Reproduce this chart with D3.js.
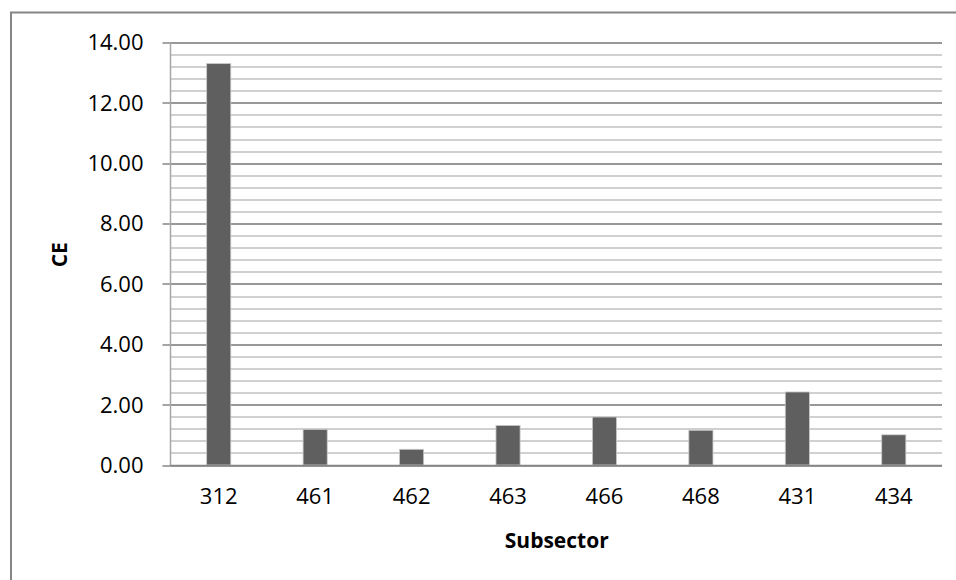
<!DOCTYPE html>
<html>
<head>
<meta charset="utf-8">
<script src="https://cdn.jsdelivr.net/npm/d3@7"></script>
<style>
  body { margin: 0; background: #fff; }
  svg { display: block; font-family: "Open Sans", "Noto Sans", sans-serif; }
</style>
</head>
<body>
<div id="chart"></div>
<script>
// data
const categories = ["312", "461", "462", "463", "466", "468", "431", "434"];
const values = [13.30, 1.18, 0.52, 1.31, 1.59, 1.15, 2.42, 1.00];
const majorTicks = [0, 2, 4, 6, 8, 10, 12, 14];
const minorTicks = d3.range(0, 14.01, 0.4);

const W = 956, H = 580;
const margin = { top: 42.5, right: 14, bottom: 115, left: 170.5 };

const svg = d3.select("#chart").append("svg")
    .attr("width", W)
    .attr("height", H);

// outer chart border
svg.append("path")
    .attr("d", `M11,${H} V12.5 H${W}`)
    .attr("fill", "none")
    .attr("stroke", "#868686")
    .attr("stroke-width", 2);

const width = W - margin.left - margin.right;
const height = H - margin.top - margin.bottom;

const g = svg.append("g")
    .attr("transform", `translate(${margin.left},${margin.top})`);

const x = d3.scaleBand().domain(categories).range([0, width]);
const y = d3.scaleLinear().domain([0, 14]).range([height, 0]);

// minor gridlines
g.selectAll(".minor")
    .data(minorTicks)
    .join("line")
    .attr("class", "minor")
    .attr("x1", 0).attr("x2", width)
    .attr("y1", d => Math.round(y(d)) + 0.5)
    .attr("y2", d => Math.round(y(d)) + 0.5)
    .attr("stroke", "#c0c0c0")
    .attr("stroke-width", 1.5);

// major gridlines + tick marks
g.selectAll(".major")
    .data(majorTicks)
    .join("line")
    .attr("class", "major")
    .attr("x1", -8).attr("x2", width)
    .attr("y1", d => Math.round(y(d)) + 0.5)
    .attr("y2", d => Math.round(y(d)) + 0.5)
    .attr("stroke", "#868686")
    .attr("stroke-width", 1.5);

// y axis line
g.append("line")
    .attr("x1", 0).attr("x2", 0)
    .attr("y1", 0).attr("y2", height)
    .attr("stroke", "#a6a6a6")
    .attr("stroke-width", 1.5);

// bars (gap width 300%)
const barW = x.bandwidth() / 4;
g.selectAll(".bar")
    .data(values)
    .join("rect")
    .attr("class", "bar")
    .attr("x", (d, i) => x(categories[i]) + (x.bandwidth() - barW) / 2)
    .attr("y", d => y(d))
    .attr("width", barW)
    .attr("height", d => height - y(d))
    .attr("fill", "#5f5f5f")
    .attr("stroke", "#c8c8c8")
    .attr("stroke-width", 0.8);

// x axis line
g.append("line")
    .attr("x1", 0).attr("x2", width)
    .attr("y1", height + 0.5).attr("y2", height + 0.5)
    .attr("stroke", "#868686")
    .attr("stroke-width", 1.5);

// y tick labels
g.selectAll(".ylab")
    .data(majorTicks)
    .join("text")
    .attr("class", "ylab")
    .attr("x", -27)
    .attr("y", d => y(d))
    .attr("dy", "0.36em")
    .attr("text-anchor", "end")
    .style("font-size", "22px")
    .style("fill", "#000")
    .text(d => d3.format(".2f")(d));

// x tick labels
g.selectAll(".xlab")
    .data(categories)
    .join("text")
    .attr("class", "xlab")
    .attr("x", d => x(d) + x.bandwidth() / 2)
    .attr("y", height + 31)
    .attr("dy", "0.36em")
    .attr("text-anchor", "middle")
    .style("font-size", "22px")
    .style("fill", "#000")
    .text(d => d);

// axis titles
g.append("text")
    .attr("x", width / 2 + 0.5)
    .attr("y", height + 75)
    .attr("dy", "0.36em")
    .attr("text-anchor", "middle")
    .style("font-size", "21px")
    .style("font-weight", "bold")
    .text("Subsector");

g.append("text")
    .attr("transform", `translate(-111,${height / 2 + 1}) rotate(-90)`)
    .attr("dy", "0.36em")
    .attr("text-anchor", "middle")
    .style("font-size", "21px")
    .style("font-weight", "bold")
    .text("CE");
</script>
</body>
</html>
